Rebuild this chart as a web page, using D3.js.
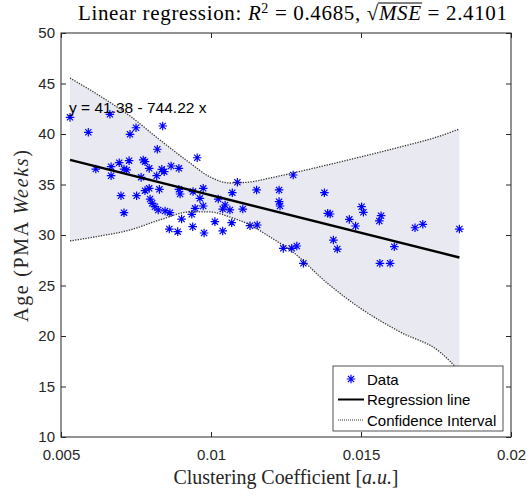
<!DOCTYPE html>
<html><head><meta charset="utf-8">
<script src="https://cdn.jsdelivr.net/npm/d3@7"></script>
<style>body{margin:0;background:#fff}</style>
</head><body><svg id="c" width="530" height="496"></svg>
<script>
// ---- data ----
const xData=[0.0053,0.00591,0.00663,0.0073,0.0075,0.00839,0.00821,0.00954,0.00616,0.00667,0.00667,0.00694,0.00727,0.0071,0.00719,0.00774,0.0078,0.00794,0.00819,0.00836,0.00844,0.00867,0.00893,0.00767,0.00794,0.0078,0.00828,0.00893,0.00897,0.007,0.00752,0.00797,0.00804,0.00813,0.00824,0.00847,0.00863,0.0071,0.00902,0.00936,0.00947,0.00963,0.00974,0.00861,0.00889,0.00939,0.00977,0.01088,0.01274,0.01071,0.01152,0.01227,0.01378,0.0094,0.01024,0.01047,0.01039,0.01063,0.01106,0.00974,0.01227,0.0123,0.01389,0.01013,0.01069,0.0113,0.01154,0.01039,0.01241,0.01269,0.01286,0.01308,0.01397,0.01461,0.01482,0.01502,0.01508,0.01567,0.01561,0.0168,0.01706,0.01828,0.01408,0.01421,0.01611,0.01563,0.01597];
const yData=[41.65,40.17,41.95,39.97,40.62,40.79,38.49,37.65,36.53,36.76,35.87,37.16,37.36,36.53,36.44,37.43,37.26,36.6,35.87,36.5,36.27,36.83,36.6,35.71,34.62,34.39,34.52,34.52,34.06,33.89,33.89,33.56,33.14,32.8,32.48,32.38,32.21,32.21,31.58,32.05,32.64,33.63,34.62,30.59,30.33,30.82,30.2,35.22,35.94,34.19,34.46,34.46,34.19,34.3,33.56,32.97,32.57,32.48,32.57,32.87,33.3,32.87,32.15,31.32,31.22,30.92,30.99,30.4,28.68,28.68,28.91,27.2,32.08,31.55,30.89,32.8,32.25,31.91,31.39,30.72,31.06,30.59,29.5,28.61,28.84,27.2,27.2];
const ciX=[0.0053,0.0063,0.0073,0.0083,0.0093,0.00997,0.01063,0.0113,0.01197,0.01273,0.01387,0.01497,0.0163,0.01763,0.01828];
const ciUpper=[45.54,43.76,41.78,39.4,37.13,35.74,35.15,35.25,35.64,36.14,36.93,37.72,38.71,39.8,40.5];
const ciLower=[29.41,29.9,30.5,31.5,32.28,32.28,31.78,30.99,29.8,28.3,25.25,22.77,20.4,18.42,16.53];
const fitIntercept=41.38, fitSlope=-744.22;
const xTicks=[0.005,0.01,0.015,0.02];
const xTickLabels=["0.005","0.01","0.015","0.02"];
const yTicks=[10,15,20,25,30,35,40,45,50];
const legendLabels=["Data","Regression line","Confidence Interval"];

// ---- layout ----
const svg=d3.select("#c");
const L=61,R=511,T=33,B=437;
const x=d3.scaleLinear([0.005,0.02],[L,R]);
const y=d3.scaleLinear([10,50],[B,T]);
const axisCol="#262626";
svg.append("rect").attr("width",530).attr("height",496).attr("fill","#fff");

// CI band
const band=ciX.map((v,i)=>({x:v,u:ciUpper[i],l:ciLower[i]}));
const curve=d3.curveMonotoneX;
svg.append("path").datum(band)
  .attr("d",d3.area().x(d=>x(d.x)).y0(d=>y(d.l)).y1(d=>y(d.u)).curve(curve))
  .attr("fill","#e9eaf1");

// data stars
const star="M-4.3,0H4.3M0,-4.3V4.3M-3.1,-3.1L3.1,3.1M-3.1,3.1L3.1,-3.1";
svg.append("g").selectAll("path").data(xData.map((v,i)=>[v,yData[i]])).join("path")
  .attr("transform",d=>`translate(${x(d[0])},${y(d[1])})`)
  .attr("d",star).attr("stroke","#0000ff").attr("stroke-width",1.2).attr("fill","none");

// regression line
const xmin=d3.min(xData), xmax=d3.max(xData);
svg.append("line")
  .attr("x1",x(xmin)).attr("y1",y(fitIntercept+fitSlope*xmin))
  .attr("x2",x(xmax)).attr("y2",y(fitIntercept+fitSlope*xmax))
  .attr("stroke","#000").attr("stroke-width",2.4);

// CI lines
["u","l"].forEach(k=>{
  svg.append("path").datum(band)
   .attr("d",d3.line().x(d=>x(d.x)).y(d=>y(d[k])).curve(curve))
   .attr("fill","none").attr("stroke","#333").attr("stroke-width",1.3).attr("stroke-dasharray","1.3,1.3");
});

// axes
const fontSans="Liberation Sans, Arial, sans-serif";
const gx=svg.append("g").attr("transform",`translate(0,${B})`)
  .call(d3.axisBottom(x).tickValues(xTicks).tickFormat((d,i)=>xTickLabels[i]).tickSize(-5).tickPadding(12));
const gxt=svg.append("g").attr("transform",`translate(0,${T})`)
  .call(d3.axisTop(x).tickValues(xTicks).tickFormat("").tickSize(-5));
const gy=svg.append("g").attr("transform",`translate(${L},0)`)
  .call(d3.axisLeft(y).tickValues(yTicks).tickSize(-5).tickPadding(6));
const gyr=svg.append("g").attr("transform",`translate(${R},0)`)
  .call(d3.axisRight(y).tickValues(yTicks).tickFormat("").tickSize(-5));
[gx,gxt,gy,gyr].forEach(g=>{
  g.select(".domain").remove();
  g.selectAll("line").attr("stroke",axisCol);
  g.selectAll("text").attr("fill",axisCol).style("font-family",fontSans).style("font-size","15px");
});
svg.append("rect").attr("x",L).attr("y",T).attr("width",R-L).attr("height",B-T)
  .attr("fill","none").attr("stroke",axisCol).attr("stroke-width",1);

// equation
svg.append("text").attr("x",69).attr("y",113).text("y = 41.38 - 744.22 x")
  .style("font-family",fontSans).style("font-size","15.5px").attr("fill","#000");

// labels
const serif="Liberation Serif, Times New Roman, serif";
const xl=svg.append("text").attr("x",286).attr("y",484).attr("text-anchor","middle")
  .attr("textLength",225).attr("lengthAdjust","spacing")
  .style("font-family",serif).style("font-size","20px").attr("fill",axisCol);
xl.append("tspan").text("Clustering Coefficient [");
xl.append("tspan").style("font-style","italic").text("a.u.");
xl.append("tspan").text("]");

const yl=svg.append("text").attr("transform","translate(28,236) rotate(-90)").attr("text-anchor","middle")
  .attr("textLength",172).attr("lengthAdjust","spacing")
  .style("font-family",serif).style("font-size","20px").attr("fill",axisCol);
yl.append("tspan").text("Age (PMA ");
yl.append("tspan").style("font-style","italic").text("Weeks");
yl.append("tspan").text(")");

// title
const tt=svg.append("text").attr("x",292.5).attr("y",20).attr("text-anchor","middle")
  .attr("textLength",429).attr("lengthAdjust","spacing")
  .style("font-family",serif).style("font-size","21px").attr("fill","#000");
tt.append("tspan").text("Linear regression: ");
tt.append("tspan").style("font-style","italic").text("R");
tt.append("tspan").attr("dy",-7).style("font-size","14px").text("2");
tt.append("tspan").attr("dy",7).text(" = 0.4685, \u221A");
tt.append("tspan").style("font-style","italic").text("MSE");
tt.append("tspan").text(" = 2.4101");
// overline above MSE
const tn=tt.node();
const full=tn.textContent;
const iM=full.indexOf("MSE");
const p0=tn.getStartPositionOfChar(iM), p1=tn.getEndPositionOfChar(iM+2);
const ex=tn.getExtentOfChar(iM);
svg.append("line").attr("x1",p0.x-1).attr("x2",p1.x+1).attr("y1",ex.y+2).attr("y2",ex.y+2)
  .attr("stroke","#000").attr("stroke-width",1);

// legend
const lg=svg.append("g");
lg.append("rect").attr("x",333).attr("y",366).attr("width",170).attr("height",65)
  .attr("fill","#fff").attr("stroke",axisCol).attr("stroke-width",0.8);
const rows=[379,399.5,420];
lg.append("path").attr("transform",`translate(351,${rows[0]})`).attr("d",star)
  .attr("stroke","#0000ff").attr("stroke-width",1.2).attr("fill","none");
lg.append("line").attr("x1",338).attr("x2",364).attr("y1",rows[1]).attr("y2",rows[1])
  .attr("stroke","#000").attr("stroke-width",2);
lg.append("line").attr("x1",338).attr("x2",364).attr("y1",rows[2]).attr("y2",rows[2])
  .attr("stroke","#333").attr("stroke-width",1).attr("stroke-dasharray","1,1");
legendLabels.forEach((t,i)=>{
  lg.append("text").attr("x",367).attr("y",rows[i]+5.5).text(t)
   .style("font-family",fontSans).style("font-size","15px").attr("fill","#000");
});
</script></body></html>
